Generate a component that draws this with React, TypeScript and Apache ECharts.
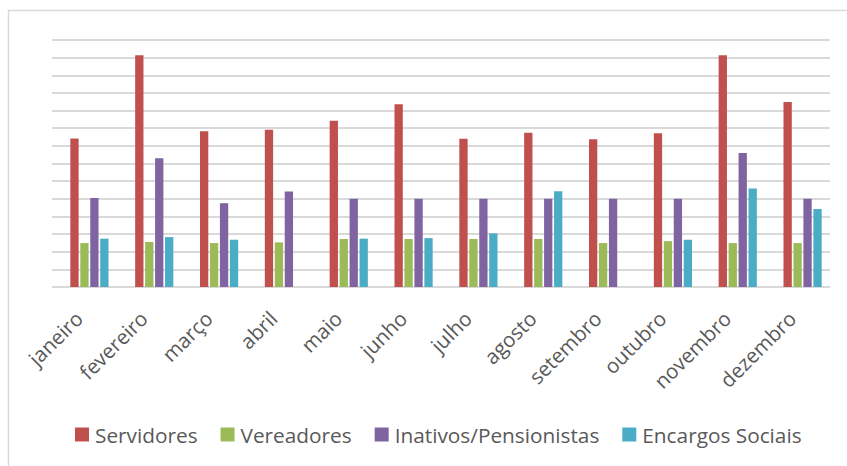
import React, { useEffect, useRef } from "react";
import * as echarts from "echarts";

const months = ["janeiro", "fevereiro", "março", "abril", "maio", "junho", "julho", "agosto", "setembro", "outubro", "novembro", "dezembro"];
const servidores = [8.42, 13.13, 8.83, 8.92, 9.42, 10.36, 8.4, 8.74, 8.38, 8.72, 13.13, 10.49];
const vereadores = [2.49, 2.55, 2.49, 2.53, 2.72, 2.72, 2.72, 2.72, 2.49, 2.6, 2.49, 2.49];
const inativos = [5.04, 7.3, 4.75, 5.42, 5.0, 5.0, 5.0, 5.0, 5.0, 5.0, 7.6, 5.0];
const encargos = [2.74, 2.83, 2.68, null, 2.74, 2.77, 3.04, 5.43, null, 2.68, 5.58, 4.42];
const seriesNames = ["Servidores", "Vereadores", "Inativos/Pensionistas", "Encargos Sociais"];
const colors = ["#C0504D", "#9BBB59", "#8064A2", "#4BACC6"];

export default function App() {
  const ref = useRef<HTMLDivElement>(null);
  useEffect(() => {
    if (!ref.current) return;
    const chart = echarts.init(ref.current, null, { renderer: "svg" });
    const font = "'Open Sans', sans-serif";
    const data = [servidores, vereadores, inativos, encargos];
    chart.setOption({
      animation: false,
      graphic: [
        {
          type: "rect",
          shape: { x: 8.5, y: 10.5, width: 880, height: 500 },
          style: { fill: "none", stroke: "#d9d9d9", lineWidth: 1.5 },
          z: -10,
        },
      ],
      grid: [
        { left: 52, right: 17, top: 40, bottom: 179 },
        { left: 57, right: 12, top: 40, bottom: 179 },
      ],
      xAxis: [
        { type: "value", gridIndex: 0, show: false, min: 0, max: 1 },
        {
          type: "category",
          gridIndex: 1,
          data: months,
          axisLine: { show: false },
          axisTick: { show: false },
          axisLabel: {
            rotate: 45,
            fontSize: 20.5,
            fontFamily: font,
            color: "#595959",
            margin: 17,
            padding: [0, 15, 0, 0],
            interval: 0,
          },
        },
      ],
      yAxis: [
        {
          type: "value",
          gridIndex: 0,
          min: 0,
          max: 14,
          interval: 1,
          axisLabel: { show: false },
          axisLine: { show: false },
          axisTick: { show: false },
          splitLine: { show: true, lineStyle: { color: "#d9d9d9", width: 1.8 } },
        },
        {
          type: "value",
          gridIndex: 1,
          min: 0,
          max: 14,
          interval: 1,
          show: false,
          splitLine: { show: false },
        },
      ],
      legend: {
        left: 70,
        top: 419,
        itemWidth: 14,
        itemHeight: 14,
        itemGap: 23,
        icon: "rect",
        textStyle: { fontSize: 20.8, fontFamily: font, color: "#595959", padding: [0, 0, 0, 1] },
        data: seriesNames,
      },
      series: seriesNames.map((name, i) => ({
        name,
        type: "bar",
        xAxisIndex: 1,
        yAxisIndex: 1,
        data: data[i],
        barWidth: 8.3,
        barGap: "20%",
        itemStyle: { color: colors[i] },
      })),
    });
    return () => chart.dispose();
  }, []);
  return <div ref={ref} style={{ position: "absolute", left: 0, top: 0, width: 847, height: 466 }} />;
}
